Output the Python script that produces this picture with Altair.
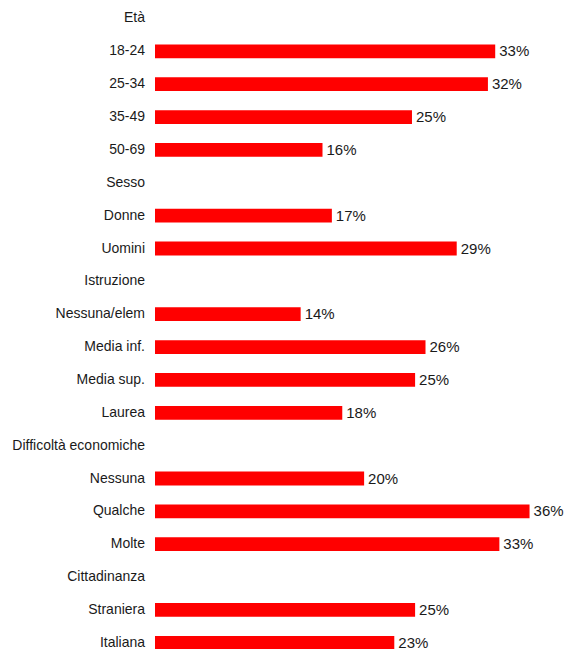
import altair as alt
import pandas as pd

labels = ["Età", "18-24", "25-34", "35-49", "50-69",
          "Sesso", "Donne", "Uomini",
          "Istruzione", "Nessuna/elem", "Media inf.", "Media sup.", "Laurea",
          "Difficoltà economiche", "Nessuna", "Qualche", "Molte",
          "Cittadinanza", "Straniera", "Italiana"]
values = [None, 32.7, 32.0, 24.7, 16.1,
          None, 17.0, 29.0,
          None, 14.0, 26.0, 25.0, 18.0,
          None, 20.1, 36.0, 33.1,
          None, 25.0, 23.0]

df = pd.DataFrame({"row": list(range(len(labels))), "label": labels, "value": values})

y = alt.Y("row:Q", scale=alt.Scale(domain=[0, len(labels) - 1], reverse=True, nice=False, zero=False), axis=None)
x = alt.X("value:Q", scale=alt.Scale(domain=[0, 39.6], nice=False), axis=None)

base = alt.Chart(df)

bars = base.transform_filter("isValid(datum.value)").mark_bar(
    orient="horizontal", size=13.8, color="#ff0000"
).encode(x=x, x2=alt.datum(0), y=y)

cat_text = base.mark_text(
    align="right", baseline="middle", font="Liberation Sans", fontSize=14, color="#1a1a1a"
).encode(x=alt.value(-10), y=y, text="label:N")

val_text = base.transform_filter("isValid(datum.value)").transform_calculate(
    frac="datum.value / 100"
).mark_text(
    align="left", baseline="middle", dx=4, font="Liberation Sans", fontSize=15, color="#1a1a1a"
).encode(x=x, y=y, text=alt.Text("frac:Q", format=".0%"))

chart = alt.layer(bars, cat_text, val_text).properties(
    width=412,
    height=634.3,
    autosize=alt.AutoSizeParams(type="none"),
    padding={"left": 147, "top": 5.5, "right": 0, "bottom": 8},
).configure_view(stroke=None)

chart.save("out.html", embed_options={"renderer": "svg", "actions": False})
